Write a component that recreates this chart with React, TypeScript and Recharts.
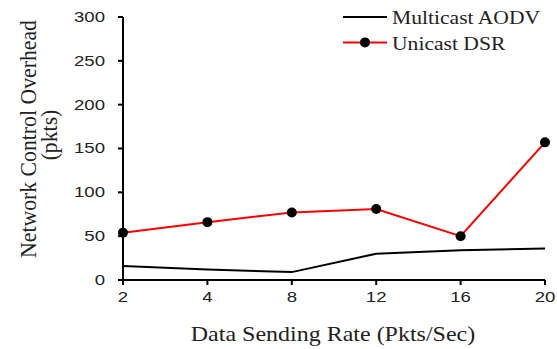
import React from 'react';
import { LineChart, Line, XAxis, YAxis, Legend, Label } from 'recharts';

const categories = ['2', '4', '8', '12', '16', '20'];
const aodvValues = [16, 12, 9, 30, 34, 36];
const dsrValues = [54, 66, 77, 81, 50, 157];
const yTicks = [0, 50, 100, 150, 200, 250, 300];
const seriesNames = { aodv: 'Multicast AODV', dsr: 'Unicast DSR' };
const xTitle = 'Data Sending Rate (Pkts/Sec)';
const yTitle1 = 'Network Control Overhead';
const yTitle2 = '(pkts)';

const data = categories.map((c, i) => ({ rate: c, aodv: aodvValues[i], dsr: dsrValues[i] }));

const SANS = '"Liberation Sans", Arial, sans-serif';
const SERIF = '"Liberation Serif", "Times New Roman", serif';
const STRETCH = 1.2;

const YTick = (props: any) => {
  const { x, y, payload } = props;
  return (
    <text
      transform={`translate(${x},${y}) scale(${STRETCH},1)`}
      x={0}
      y={0}
      textAnchor="end"
      dominantBaseline="central"
      fontFamily={SANS}
      fontSize={15.5}
      fill="#222"
    >
      {payload.value}
    </text>
  );
};

const XTick = (props: any) => {
  const { x, y, payload } = props;
  return (
    <text
      transform={`translate(${x},${y}) scale(${STRETCH},1)`}
      x={0}
      y={0}
      textAnchor="middle"
      dominantBaseline="hanging"
      fontFamily={SANS}
      fontSize={15.5}
      fill="#222"
    >
      {payload.value}
    </text>
  );
};

const YTitle = () => (
  <g>
    <text
      transform={`translate(36,139) rotate(-90) scale(1,1.05)`}
      textAnchor="middle"
      fontFamily={SERIF}
      fontSize={21.75}
      fill="#222"
    >
      {yTitle1}
    </text>
    <text
      transform={`translate(57,135) rotate(-90) scale(1,1.05)`}
      textAnchor="middle"
      fontFamily={SERIF}
      fontSize={21.75}
      fill="#222"
    >
      {yTitle2}
    </text>
  </g>
);

const XTitle = () => (
  <text
    transform={`translate(333,341) scale(${STRETCH},1)`}
    x={0}
    y={0}
    textAnchor="middle"
    fontFamily={SERIF}
    fontSize={20}
    fill="#222"
  >
    {xTitle}
  </text>
);

const LegendContent = (props: any) => {
  const { payload } = props;
  return (
    <svg width={215} height={56} style={{ display: 'block' }}>
      {(payload || []).map((entry: any, i: number) => {
        const cy = 12 + i * 25.4;
        const hasDot = entry.value === seriesNames.dsr;
        return (
          <g key={entry.value}>
            <line x1={3} x2={47} y1={cy} y2={cy} stroke={entry.color} strokeWidth={2} />
            {hasDot && <circle cx={25} cy={cy} r={5} fill="#000" />}
            <text
              transform={`translate(52,${cy + 1}) scale(${STRETCH},1)`}
              x={0}
              y={0}
              dominantBaseline="central"
              fontFamily={SERIF}
              fontSize={18}
              fill="#222"
            >
              {entry.value}
            </text>
          </g>
        );
      })}
    </svg>
  );
};

export default function App() {
  return (
    <div style={{ position: 'absolute', left: 0, top: 0, width: 557, height: 349, background: '#fff' }}>
      <LineChart width={557} height={349} data={data} margin={{ top: 17, right: 12, bottom: 0, left: 0 }}>
        <XAxis
          dataKey="rate"
          scale="point"
          padding={{ left: 0, right: 0 }}
          height={69}
          axisLine={{ stroke: '#000', strokeWidth: 2 }}
          tickLine={{ stroke: '#000', strokeWidth: 2 }}
          tickSize={5}
          tickMargin={6}
          tick={<XTick />}
          interval={0}
        >
          <Label content={<XTitle />} />
        </XAxis>
        <YAxis
          width={123}
          domain={[0, 300]}
          ticks={yTicks}
          axisLine={{ stroke: '#000', strokeWidth: 2 }}
          tickLine={{ stroke: '#000', strokeWidth: 2 }}
          tickSize={5}
          tickMargin={13}
          tick={<YTick />}
          interval={0}
        >
          <Label content={<YTitle />} />
        </YAxis>
        <Legend
          verticalAlign="middle"
          align="center"
          layout="vertical"
          content={<LegendContent />}
          wrapperStyle={{ position: 'absolute', left: 340, top: 5, width: 215, height: 56 }}
        />
        <Line
          name={seriesNames.aodv}
          dataKey="aodv"
          type="linear"
          stroke="#000"
          strokeWidth={2}
          dot={false}
          isAnimationActive={false}
        />
        <Line
          name={seriesNames.dsr}
          dataKey="dsr"
          type="linear"
          stroke="#ff0000"
          strokeWidth={2}
          dot={{ r: 5, fill: '#000', stroke: 'none' }}
          isAnimationActive={false}
        />
      </LineChart>
    </div>
  );
}
